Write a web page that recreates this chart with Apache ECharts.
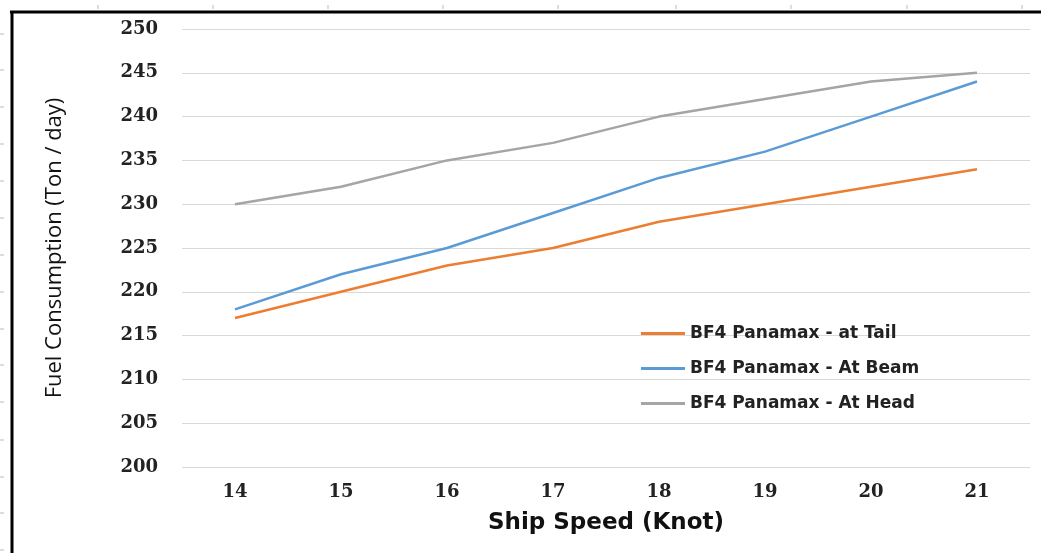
<!DOCTYPE html>
<html><head><meta charset="utf-8">
<script src="https://cdn.jsdelivr.net/npm/echarts@6/dist/echarts.min.js"></script>
<style>html,body{margin:0;padding:0;background:#fff}#c{width:1041px;height:553px}</style>
</head><body><div id="c"></div>
<script>
const speeds = ['14','15','16','17','18','19','20','21'];
const tail = [217, 220, 223, 225, 228, 230, 232, 234];
const beam = [218, 222, 225, 229, 233, 236, 240, 244];
const head = [230, 232, 235, 237, 240, 242, 244, 245];
const seriesNames = ['BF4 Panamax - at Tail', 'BF4 Panamax - At Beam', 'BF4 Panamax - At Head'];
const colors = ['#ED7D31', '#5B9BD5', '#A5A5A5'];

const chart = echarts.init(document.getElementById('c'));
const frame = [];
frame.push({type:'line', shape:{x1:10,y1:12,x2:1041,y2:12}, style:{stroke:'#000',lineWidth:3}, z:10});
frame.push({type:'line', shape:{x1:12,y1:11,x2:12,y2:553}, style:{stroke:'#000',lineWidth:3}, z:10});
[34,70,107,144,181,218,255,292,329,365,402,440,477,513,550].forEach(y=>frame.push({type:'line',shape:{x1:0,y1:y,x2:4,y2:y},style:{stroke:'#bbb',lineWidth:1}}));
[98,213,328,443,558,676,791,907,1022].forEach(x=>frame.push({type:'line',shape:{x1:x,y1:5,x2:x,y2:9},style:{stroke:'#bbb',lineWidth:1}}));

chart.setOption({
  animation:false,
  color: colors,
  graphic: frame,
  grid:{left:182, right:11, top:29, bottom:86},
  legend:{
    orient:'vertical', left:636, top:320, itemGap:18, itemWidth:44, itemHeight:3,
    icon:'rect',
    textStyle:{fontFamily:'DejaVu Sans', fontSize:17, fontWeight:'bold', color:'#222'},
    data: seriesNames
  },
  xAxis:{
    type:'category', data:speeds, boundaryGap:true,
    axisLine:{show:false}, axisTick:{show:false},
    axisLabel:{fontFamily:'DejaVu Serif', fontWeight:'bold', fontSize:18, color:'#222', margin:16},
    name:'Ship Speed (Knot)', nameLocation:'middle', nameGap:45,
    nameTextStyle:{fontFamily:'DejaVu Sans', fontWeight:'bold', fontSize:23, color:'#111'}
  },
  yAxis:{
    type:'value', min:200, max:250, interval:5,
    axisLine:{show:false}, axisTick:{show:false},
    splitLine:{lineStyle:{color:'#d9d9d9', width:1}},
    axisLabel:{fontFamily:'DejaVu Serif', fontWeight:'bold', fontSize:18, color:'#222', margin:24},
    name:'Fuel Consumption (Ton / day)', nameLocation:'middle', nameGap:116, nameRotate:90,
    nameTextStyle:{fontFamily:'Open Sans', fontSize:22, color:'#111'}
  },
  series:[
    {name:seriesNames[0], type:'line', data:tail, symbol:'none', lineStyle:{width:2.5}},
    {name:seriesNames[1], type:'line', data:beam, symbol:'none', lineStyle:{width:2.5}},
    {name:seriesNames[2], type:'line', data:head, symbol:'none', lineStyle:{width:2.5}}
  ]
});
</script></body></html>
